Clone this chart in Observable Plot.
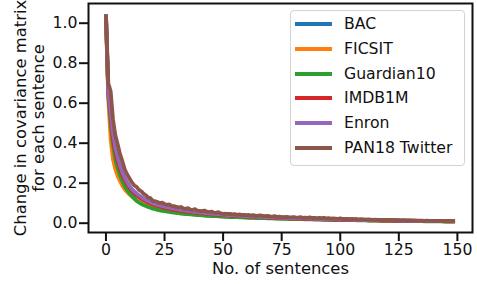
<!DOCTYPE html>
<html><head><meta charset="utf-8">
<script src="https://cdn.jsdelivr.net/npm/d3@7"></script>
<script src="https://cdn.jsdelivr.net/npm/@observablehq/plot@0.6"></script>
<style>
body{margin:0;background:#fff;font-family:"DejaVu Sans",sans-serif;}
#wrap{position:relative;width:477px;height:284px;overflow:hidden;}
#legend{position:absolute;left:290px;top:10px;width:175px;height:156px;border:1.6px solid #d3d3d3;border-radius:4px;background:rgba(255,255,255,0.8);box-sizing:border-box;}
.item{position:absolute;left:0;height:22px;display:flex;align-items:center;white-space:nowrap;}
.sw{display:inline-block;width:37px;height:4px;margin-left:4px;margin-right:12px;}
.lab{font-size:15.7px;color:#111;line-height:22px;font-family:"DejaVu Sans",sans-serif;}
</style>
</head><body>
<div id="wrap"><div id="legend"></div></div>
<script>
const seriesNames = ["BAC","FICSIT","Guardian10","IMDB1M","Enron","PAN18 Twitter"];
const seriesColors = ["#1f77b4","#ff7f0e","#2ca02c","#d62728","#9467bd","#8c564b"];
const xTicks = [0,25,50,75,100,125,150];
const yTicks = [0,0.2,0.4,0.6,0.8,1.0];
const xLabel = "No. of sentences";
const yLabel = "Change in covariance matrix\nfor each sentence";

const bac = [
1.045,0.640,0.500,0.400,0.335,0.290,0.255,0.226,0.203,0.184,
0.169,0.155,0.144,0.134,0.126,0.118,0.111,0.105,0.099,0.094,
0.090,0.086,0.082,0.079,0.076,0.073,0.071,0.068,0.066,0.064,
0.060,0.058,0.057,0.055,0.054,0.052,0.051,0.050,0.049,0.048,
0.047,0.046,0.045,0.044,0.043,0.042,0.041,0.040,0.040,0.039,
0.038,0.037,0.037,0.036,0.035,0.035,0.034,0.034,0.033,0.033,
0.032,0.032,0.031,0.031,0.030,0.030,0.029,0.029,0.029,0.028,
0.028,0.027,0.027,0.027,0.026,0.026,0.026,0.025,0.025,0.025,
0.024,0.024,0.024,0.023,0.023,0.023,0.022,0.022,0.022,0.022,
0.021,0.021,0.021,0.020,0.020,0.020,0.020,0.019,0.019,0.019,
0.019,0.018,0.018,0.018,0.018,0.017,0.017,0.017,0.017,0.017,
0.016,0.016,0.016,0.016,0.016,0.015,0.015,0.015,0.015,0.015,
0.014,0.014,0.014,0.014,0.014,0.014,0.013,0.013,0.013,0.013,
0.013,0.013,0.012,0.012,0.012,0.012,0.012,0.012,0.012,0.011,
0.011,0.011,0.011,0.011,0.011,0.011,0.011,0.010,0.010,0.010];

const ficsit = [
1.030,0.620,0.420,0.320,0.270,0.235,0.210,0.188,0.170,0.156,
0.144,0.134,0.126,0.118,0.111,0.104,0.098,0.092,0.087,0.083,
0.079,0.075,0.072,0.069,0.066,0.064,0.062,0.060,0.058,0.056,
0.054,0.053,0.051,0.050,0.049,0.047,0.046,0.045,0.044,0.043,
0.042,0.041,0.040,0.039,0.039,0.038,0.037,0.036,0.036,0.035,
0.034,0.034,0.033,0.033,0.032,0.032,0.031,0.031,0.030,0.030,
0.029,0.029,0.028,0.028,0.028,0.027,0.027,0.026,0.026,0.026,
0.025,0.025,0.025,0.024,0.024,0.024,0.023,0.023,0.023,0.022,
0.022,0.022,0.022,0.021,0.021,0.021,0.020,0.020,0.020,0.020,
0.019,0.019,0.019,0.019,0.018,0.018,0.018,0.018,0.017,0.017,
0.017,0.017,0.017,0.016,0.016,0.016,0.016,0.016,0.015,0.015,
0.015,0.015,0.015,0.014,0.014,0.014,0.014,0.014,0.013,0.013,
0.013,0.013,0.013,0.013,0.012,0.012,0.012,0.012,0.012,0.012,
0.011,0.011,0.011,0.011,0.011,0.011,0.011,0.010,0.010,0.010,
0.010,0.010,0.010,0.010,0.010,0.009,0.009,0.009,0.009,0.009];

const guardian10 = [
1.035,0.650,0.500,0.390,0.320,0.275,0.240,0.210,0.186,0.166,
0.150,0.136,0.124,0.112,0.104,0.097,0.091,0.086,0.081,0.077,
0.073,0.070,0.067,0.064,0.062,0.060,0.058,0.056,0.054,0.053,
0.051,0.050,0.048,0.047,0.046,0.045,0.044,0.043,0.042,0.041,
0.040,0.039,0.038,0.037,0.037,0.036,0.035,0.035,0.034,0.033,
0.033,0.032,0.032,0.031,0.031,0.030,0.030,0.029,0.029,0.028,
0.028,0.027,0.027,0.027,0.026,0.026,0.025,0.025,0.025,0.024,
0.024,0.024,0.023,0.023,0.023,0.022,0.022,0.022,0.021,0.021,
0.021,0.020,0.020,0.020,0.020,0.019,0.019,0.019,0.019,0.018,
0.018,0.018,0.018,0.017,0.017,0.017,0.017,0.016,0.016,0.016,
0.016,0.016,0.015,0.015,0.015,0.015,0.015,0.014,0.014,0.014,
0.014,0.014,0.013,0.013,0.013,0.013,0.013,0.012,0.012,0.012,
0.012,0.012,0.012,0.011,0.011,0.011,0.011,0.011,0.011,0.010,
0.010,0.010,0.010,0.010,0.010,0.010,0.009,0.009,0.009,0.009,
0.009,0.009,0.009,0.009,0.008,0.008,0.008,0.008,0.008,0.008];

const imdb1m = [
1.040,0.650,0.530,0.420,0.355,0.310,0.272,0.240,0.215,0.195,
0.178,0.163,0.151,0.141,0.132,0.124,0.117,0.110,0.104,0.099,
0.094,0.090,0.086,0.083,0.080,0.077,0.074,0.072,0.069,0.067,
0.065,0.063,0.062,0.060,0.058,0.057,0.055,0.054,0.053,0.051,
0.050,0.049,0.048,0.047,0.046,0.045,0.044,0.043,0.042,0.041,
0.040,0.039,0.039,0.038,0.037,0.037,0.036,0.035,0.035,0.034,
0.033,0.033,0.032,0.031,0.031,0.030,0.030,0.029,0.029,0.028,
0.028,0.027,0.027,0.026,0.026,0.025,0.025,0.025,0.024,0.024,
0.023,0.023,0.023,0.022,0.022,0.022,0.021,0.021,0.021,0.020,
0.020,0.020,0.019,0.019,0.019,0.018,0.018,0.018,0.018,0.017,
0.017,0.017,0.016,0.016,0.016,0.016,0.016,0.015,0.015,0.015,
0.015,0.015,0.014,0.014,0.014,0.014,0.014,0.013,0.013,0.013,
0.013,0.013,0.013,0.012,0.012,0.012,0.012,0.012,0.012,0.011,
0.011,0.011,0.011,0.011,0.011,0.011,0.010,0.010,0.010,0.010,
0.010,0.010,0.010,0.010,0.010,0.009,0.009,0.009,0.009,0.009];

const enron = [
1.040,0.660,0.560,0.450,0.380,0.330,0.290,0.255,0.228,0.206,
0.188,0.172,0.160,0.150,0.140,0.132,0.124,0.117,0.111,0.106,
0.100,0.096,0.092,0.089,0.086,0.083,0.080,0.078,0.075,0.073,
0.071,0.069,0.067,0.065,0.063,0.062,0.060,0.058,0.057,0.055,
0.054,0.053,0.051,0.050,0.049,0.048,0.047,0.046,0.045,0.044,
0.043,0.042,0.041,0.040,0.040,0.039,0.038,0.037,0.037,0.036,
0.035,0.035,0.034,0.033,0.033,0.032,0.032,0.031,0.031,0.030,
0.030,0.029,0.029,0.028,0.028,0.027,0.027,0.027,0.026,0.026,
0.025,0.025,0.025,0.024,0.024,0.024,0.023,0.023,0.023,0.022,
0.022,0.022,0.021,0.021,0.021,0.020,0.020,0.020,0.020,0.019,
0.019,0.019,0.018,0.018,0.018,0.018,0.017,0.017,0.017,0.017,
0.016,0.016,0.016,0.016,0.016,0.015,0.015,0.015,0.015,0.015,
0.014,0.014,0.014,0.014,0.014,0.013,0.013,0.013,0.013,0.013,
0.013,0.012,0.012,0.012,0.012,0.012,0.012,0.011,0.011,0.011,
0.011,0.011,0.011,0.011,0.010,0.010,0.010,0.010,0.010,0.010];

const pan18 = [
1.045,0.700,0.660,0.520,0.440,0.395,0.345,0.310,0.270,0.245,
0.225,0.205,0.190,0.182,0.168,0.160,0.148,0.140,0.128,0.125,
0.112,0.110,0.106,0.100,0.103,0.096,0.092,0.094,0.087,0.085,
0.082,0.079,0.081,0.074,0.072,0.075,0.068,0.067,0.070,0.063,
0.062,0.060,0.063,0.058,0.056,0.058,0.053,0.052,0.055,0.049,
0.047,0.048,0.046,0.047,0.044,0.045,0.042,0.044,0.041,0.042,
0.040,0.041,0.039,0.040,0.037,0.038,0.039,0.036,0.035,0.037,
0.034,0.033,0.035,0.032,0.033,0.031,0.030,0.032,0.030,0.029,
0.031,0.029,0.028,0.030,0.027,0.028,0.027,0.029,0.026,0.027,
0.025,0.026,0.025,0.027,0.024,0.025,0.023,0.024,0.023,0.022,
0.024,0.022,0.021,0.022,0.020,0.021,0.020,0.021,0.019,0.020,
0.019,0.018,0.019,0.018,0.017,0.018,0.017,0.017,0.016,0.017,
0.016,0.016,0.015,0.016,0.015,0.015,0.014,0.015,0.014,0.014,
0.014,0.013,0.014,0.013,0.013,0.013,0.012,0.013,0.012,0.012,
0.012,0.012,0.011,0.012,0.011,0.012,0.011,0.011,0.012,0.012];

const seriesValues = [bac, ficsit, guardian10, imdb1m, enron, pan18];

const rows = [];
seriesValues.forEach((vals, s) => vals.forEach((v, i) => rows.push({series: seriesNames[s], x: i, y: v})));

const lineMarks = seriesNames.map((name, s) =>
  Plot.line(rows.filter(r => r.series === name), {x: "x", y: "y", stroke: seriesColors[s], strokeWidth: 3.8, strokeLinejoin: "round", strokeLinecap: "butt"})
);

const chart = Plot.plot({
  width: 477, height: 284,
  marginLeft: 88, marginRight: 5, marginTop: 3, marginBottom: 52,
  style: {fontFamily: "DejaVu Sans", fontSize: "15.7px", color: "#111", background: "white", overflow: "visible"},
  x: {domain: [-7.45, 156.45]},
  y: {domain: [-0.0465, 1.0985]},
  marks: [
    ...lineMarks,
    Plot.frame({stroke: "#111", strokeWidth: 2}),
    Plot.axisX({ticks: xTicks, tickSize: 9, tickPadding: 2, strokeWidth: 2, label: null, tickFormat: d => String(d), fontSize: 15.7}),
    Plot.axisY({ticks: yTicks, tickSize: 9, tickPadding: 2, strokeWidth: 2, label: null, tickFormat: d => d.toFixed(1), fontSize: 15.7}),
    Plot.text([xLabel], {text: d => d, frameAnchor: "bottom", textAnchor: "middle", lineAnchor: "middle", dy: 36, fontSize: 16.4, fill: "#111"}),
    Plot.text([yLabel], {text: d => d, frameAnchor: "left", textAnchor: "middle", lineAnchor: "middle", rotate: -90, dx: -59.5, fontSize: 16.4, lineHeight: 1.13, fill: "#111"})
  ]
});
const wrap = document.getElementById("wrap");
wrap.insertBefore(chart, wrap.firstChild);

const legend = document.getElementById("legend");
seriesNames.forEach((name, i) => {
  const item = document.createElement("div");
  item.className = "item";
  item.style.top = (24.3 + i * 24.9 - 10 - 1.6 - 11) + "px";
  const sw = document.createElement("span");
  sw.className = "sw";
  sw.style.background = seriesColors[i];
  const lab = document.createElement("span");
  lab.className = "lab";
  lab.textContent = name;
  item.appendChild(sw); item.appendChild(lab);
  legend.appendChild(item);
});
</script>
</body></html>
